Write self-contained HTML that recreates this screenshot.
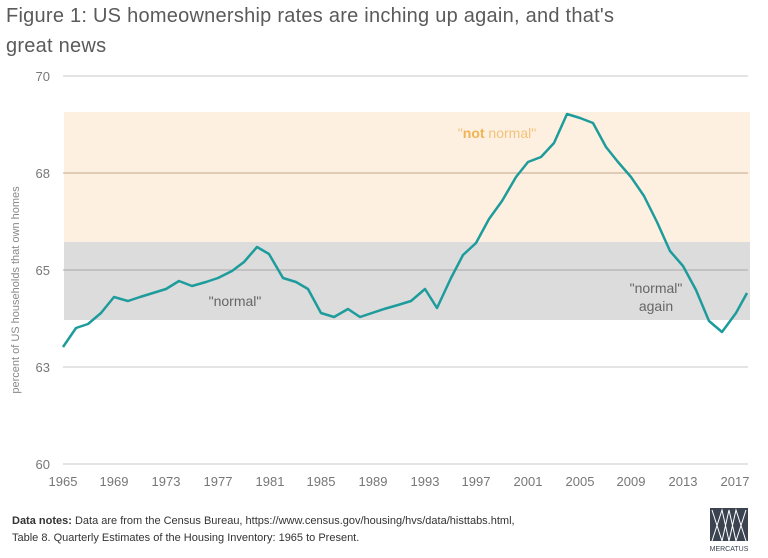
<!DOCTYPE html>
<html><head><meta charset="utf-8"><style>
html,body{margin:0;padding:0;background:#fff;width:768px;height:558px;overflow:hidden;font-family:"Liberation Sans",sans-serif}
</style></head><body>
<svg width="768" height="558" xmlns="http://www.w3.org/2000/svg" font-family="Liberation Sans, sans-serif">
<text x="6" y="22" font-size="20" fill="#5a5a5a" letter-spacing="0.25">Figure 1: US homeownership rates are inching up again, and that's</text>
<text x="6" y="52" font-size="20" fill="#5a5a5a" letter-spacing="0.25">great news</text>
<rect x="64" y="112" width="686" height="130" fill="#fdf0e1"/>
<rect x="64" y="242" width="686" height="78" fill="#dcdcdc"/>
<g stroke="#c8c8c8" stroke-width="1">
<line x1="63" y1="76" x2="748" y2="76"/>
<line x1="63" y1="173" x2="748" y2="173" stroke="#c4a88a"/>
<line x1="63" y1="270" x2="748" y2="270" stroke="#a8a8a8"/>
<line x1="63" y1="367" x2="748" y2="367"/>
<line x1="63" y1="464" x2="748" y2="464"/>
</g>
<g font-size="13" fill="#777" text-anchor="end">
<text x="50" y="81">70</text><text x="50" y="178">68</text><text x="50" y="275">65</text><text x="50" y="372">63</text><text x="50" y="469">60</text>
</g>
<text transform="translate(19,290) rotate(-90)" font-size="11" fill="#888" text-anchor="middle">percent of US households that own homes</text>
<g font-size="13" fill="#777" text-anchor="middle">
<text x="63" y="486">1965</text><text x="114" y="486">1969</text><text x="166" y="486">1973</text><text x="218" y="486">1977</text><text x="270" y="486">1981</text><text x="321" y="486">1985</text><text x="373" y="486">1989</text><text x="425" y="486">1993</text><text x="476" y="486">1997</text><text x="528" y="486">2001</text><text x="580" y="486">2005</text><text x="631" y="486">2009</text><text x="683" y="486">2013</text><text x="735" y="486">2017</text>
</g>
<text x="235" y="306" font-size="14" fill="#666" text-anchor="middle">"normal"</text>
<text x="656" y="293" font-size="14" fill="#666" text-anchor="middle">"normal"</text>
<text x="656" y="311" font-size="14" fill="#666" text-anchor="middle">again</text>
<text x="497" y="138" font-size="14" fill="#f3c27a" text-anchor="middle">"<tspan font-weight="bold" fill="#f0b356">not</tspan> normal"</text>
<polyline fill="none" stroke="#1e9c9c" stroke-width="2.5" stroke-linejoin="round" points="63,347 76,328 88,324 101,313 114,297 128,301 140,297 153,293 166,289 179,281 192,286 206,282 218,278 232,271 244,262 257,247 269,254 283,278 296,282 308,289 321,313 334,317 348,309 360,317 384,309 398,305 411,301 425,289 437,308 451,278 463,255 476,243 489,219 502,201 516,177 528,162 541,157 554,143 567,114 580,118 593,123 606,147 618,162 631,177 644,196 657,222 670,251 683,266 696,290 709,321 722,332 736,313 747,293"/>
<text x="12" y="524" font-size="11" fill="#333"><tspan font-weight="bold">Data notes:</tspan> Data are from the Census Bureau, https://www.census.gov/housing/hvs/data/histtabs.html,</text>
<text x="12" y="541" font-size="11" fill="#333">Table 8. Quarterly Estimates of the Housing Inventory: 1965 to Present.</text>
<rect x="710" y="508" width="38" height="33" fill="#3b4350"/>
<g stroke="#fff" stroke-width="1" fill="none">
<polyline points="712,541 722,510 729,541 736,510 746,541"/>
<polyline points="712,510 722,541 729,510 736,541 746,510"/>
</g>
<text x="729" y="551" font-size="7" fill="#3b4350" text-anchor="middle">MERCATUS</text>
</svg>
</body></html>
